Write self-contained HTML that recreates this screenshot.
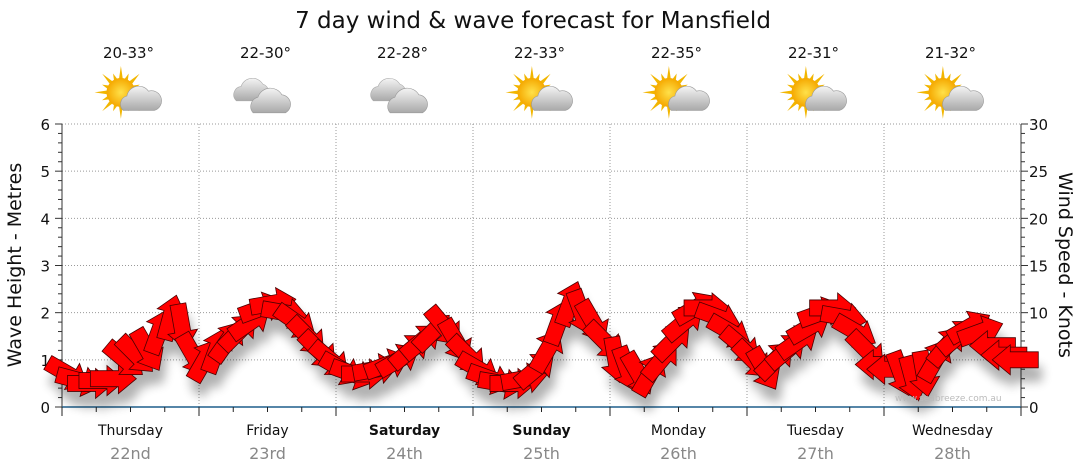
<!DOCTYPE html>
<html><head><meta charset="utf-8"><style>
body{margin:0;background:#fff;}
svg{display:block;font-family:"DejaVu Sans","Liberation Sans",sans-serif;}
</style></head><body>
<svg id="chart" width="1080" height="475" viewBox="0 0 1080 475">
<defs>
<filter id="sh" x="-50%" y="-50%" width="200%" height="200%"><feGaussianBlur stdDeviation="5"/></filter>
<radialGradient id="sun" cx="0.5" cy="0.5" r="0.5"><stop offset="0" stop-color="#ffe14a"/><stop offset="1" stop-color="#f5a800"/></radialGradient>
<linearGradient id="cloud" x1="0" y1="0" x2="0" y2="1"><stop offset="0" stop-color="#f4f4f4"/><stop offset="1" stop-color="#a9a9a9"/></linearGradient>
</defs>
<text x="533" y="28" font-size="23" text-anchor="middle" fill="#111">7 day wind &amp; wave forecast for Mansfield</text>
<g id="grid"></g><g id="axes"></g><g id="shadows" filter="url(#sh)" opacity="0.3"></g><g id="arrows"></g><g id="icons"></g>
<text x="895" y="401" font-size="9" fill="#bbb">www.seabreeze.com.au</text>
<text transform="translate(21,265) rotate(-90)" font-size="19" text-anchor="middle" fill="#111">Wave Height - Metres</text>
<text transform="translate(1059,265) rotate(90)" font-size="19" text-anchor="middle" fill="#111">Wind Speed - Knots</text>
</svg>
<script>
const days=["Thursday","Friday","Saturday","Sunday","Monday","Tuesday","Wednesday"];
const dates=["22nd","23rd","24th","25th","26th","27th","28th"];
const temps=["20-33°","22-30°","22-28°","22-33°","22-35°","22-31°","21-32°"];
const icons=["suncloud","cloud","cloud","suncloud","suncloud","suncloud","suncloud"];
const boldDays=[false,false,true,true,false,false,false];
const waveTicks=[0,1,2,3,4,5,6];
const windTicks=[0,5,10,15,20,25,30];
// wind speed (knots) every 2 hours
const windSpeed=[3.5,2.8,2.5,2.8,3,5,5.5,6,8,9.5,8.5,5.5,
 5,6,7,8,9,10.5,11,10,9,7.5,6,5,
 4,3.5,3.5,4,4.5,5,6,7,8,8.5,7,5.5,
 4,3,2.5,2.5,3,4,6,9,11,10,9,7,
 5,4,3.5,3.5,5,7,9,10.5,10.5,9.5,8,6.5,
 5,4,5,6,7,8.5,10,10.5,9.5,8,6,4.5,
 4,3.5,3,3.5,5,6.5,7.5,8.5,8,6.5,5.5,5];
// arrow pointing direction (deg, screen, 0=right, clockwise)
const windDir=[30,15,0,0,0,40,45,60,-70,-75,80,60,
 -60,-70,-55,-45,-35,-20,-10,10,35,45,45,40,
 30,20,0,-10,-20,-30,-40,-40,-45,50,60,45,
 30,20,10,0,-10,-40,-60,-70,-70,70,60,45,
 80,70,60,-60,-50,-45,-40,-30,0,20,30,40,
 45,60,-45,-40,-35,-30,-20,0,10,30,45,180,
 180,70,75,80,-60,-50,-40,-30,-20,180,180,180];
const X0=62,X1=1021,Y0=407,Y6=124;
const ns="http://www.w3.org/2000/svg";
function el(t,a,p){const e=document.createElementNS(ns,t);for(const k in a)e.setAttribute(k,a[k]);document.getElementById(p).appendChild(e);return e;}
const dayW=(X1-X0)/7;
function xHour(h){return X0+h/24*dayW;}
function yWave(m){return Y0-(Y0-Y6)*m/6;}
function yWind(k){return yWave(k/5);}
waveTicks.forEach(v=>{
 if(v>0){const g=el('line',{x1:X0,x2:X1,y1:yWave(v),y2:yWave(v),stroke:'#999','stroke-dasharray':'1,2'},'grid');
 
 }
 const t=el('text',{x:50,y:yWave(v)+6,'font-size':15,'text-anchor':'end',fill:'#111'},'axes');t.textContent=v;
 
 
});
for(let i=0;i<=30;i++){const y=Y0-(Y0-Y6)*i/30;el('line',{x1:X0-(i%5?4:7),x2:X0,y1:y,y2:y,stroke:'#333'},'axes');el('line',{x1:X1,x2:X1+(i%5?4:7),y1:y,y2:y,stroke:'#333'},'axes');}
windTicks.forEach(v=>{const t=el('text',{x:1029,y:yWind(v)+6,'font-size':15,fill:'#111'},'axes');t.textContent=v;
 
 });
el('line',{x1:X0,x2:X0,y1:Y6,y2:Y0,stroke:'#333'},'axes');
el('line',{x1:X1,x2:X1,y1:Y6,y2:Y0,stroke:'#333'},'axes');
for(let d=1;d<7;d++){const g=el('line',{x1:X0+d*dayW,x2:X0+d*dayW,y1:Y6,y2:Y0,stroke:'#999','stroke-dasharray':'1,2'},'grid');
 
 }
el('line',{x1:X0,x2:X1,y1:Y0,y2:Y0,stroke:'#1f5f8b','stroke-width':1.5},'axes');
for(let i=0;i<=28;i++){const x=X0+i*dayW/4;el('line',{x1:x,x2:x,y1:Y0,y2:Y0+(i%4?5:9),stroke:'#222'},'axes');}
days.forEach((d,i)=>{const cx=X0+(i+.5)*dayW;
 const t=el('text',{x:cx,y:435,'font-size':14,'text-anchor':'middle',fill:'#111','font-weight':boldDays[i]?'bold':'normal'},'axes');t.textContent=d;
 
 
 const t2=el('text',{x:cx,y:459,'font-size':16,'text-anchor':'middle',fill:'#888'},'axes');t2.textContent=dates[i];
 
 
 const t3=el('text',{x:cx-2,y:58,'font-size':15,'text-anchor':'middle',fill:'#111'},'icons');t3.textContent=temps[i];
 
 
 const g=document.createElementNS(ns,'g');g.setAttribute('transform',`translate(${cx},96) scale(1.2)`);
 
 
 document.getElementById('icons').appendChild(g);
 let s='';
 if(icons[i]=='suncloud'){
  for(let k=0;k<16;k++){const a=k*Math.PI/8,r=k%2?17:22;s+=`<polygon points="${-8+Math.cos(a-0.15)*11},${-3+Math.sin(a-0.15)*11} ${-8+Math.cos(a)*r},${-3+Math.sin(a)*r} ${-8+Math.cos(a+0.15)*11},${-3+Math.sin(a+0.15)*11}" fill="#f2b600"/>`;}
  s+=`<circle cx="-8" cy="-3" r="12" fill="url(#sun)"/>`;
  s+=`<path d="M-6,12 a7,7 0 0 1 3,-12 a10,10 0 0 1 18,-4 a8,8 0 0 1 5,16 z" fill="url(#cloud)" stroke="#999" stroke-width=".5"/>`;
 }else{
  s+=`<path d="M-26,4 a7,7 0 0 1 4,-12 a10,10 0 0 1 18,-2 a8,8 0 0 1 2,14 z" fill="url(#cloud)" stroke="#aaa" stroke-width=".5"/>`;
  s+=`<path d="M-12,14 a8,8 0 0 1 4,-13 a11,11 0 0 1 20,-2 a8,8 0 0 1 3,15 z" fill="url(#cloud)" stroke="#999" stroke-width=".5"/>`;
 }
 g.innerHTML=s;
});
const arrowPts="-23,-8 5,-8 5,-15 23,0 5,15 5,8 -23,8";
windSpeed.forEach((v,i)=>{
 const x=xHour(i*2+1),y=yWind(v),a=windDir[i];
 const sh=el('polygon',{points:arrowPts,fill:'#000',transform:`translate(${x+4},${y+14}) rotate(${a})`},'shadows');
 
 
 const p=el('polygon',{points:arrowPts,fill:'#ff0000',stroke:'#4a0000','stroke-width':0.8,transform:`translate(${x},${y}) rotate(${a})`},'arrows');
 
 
});
</script>
</body></html>
